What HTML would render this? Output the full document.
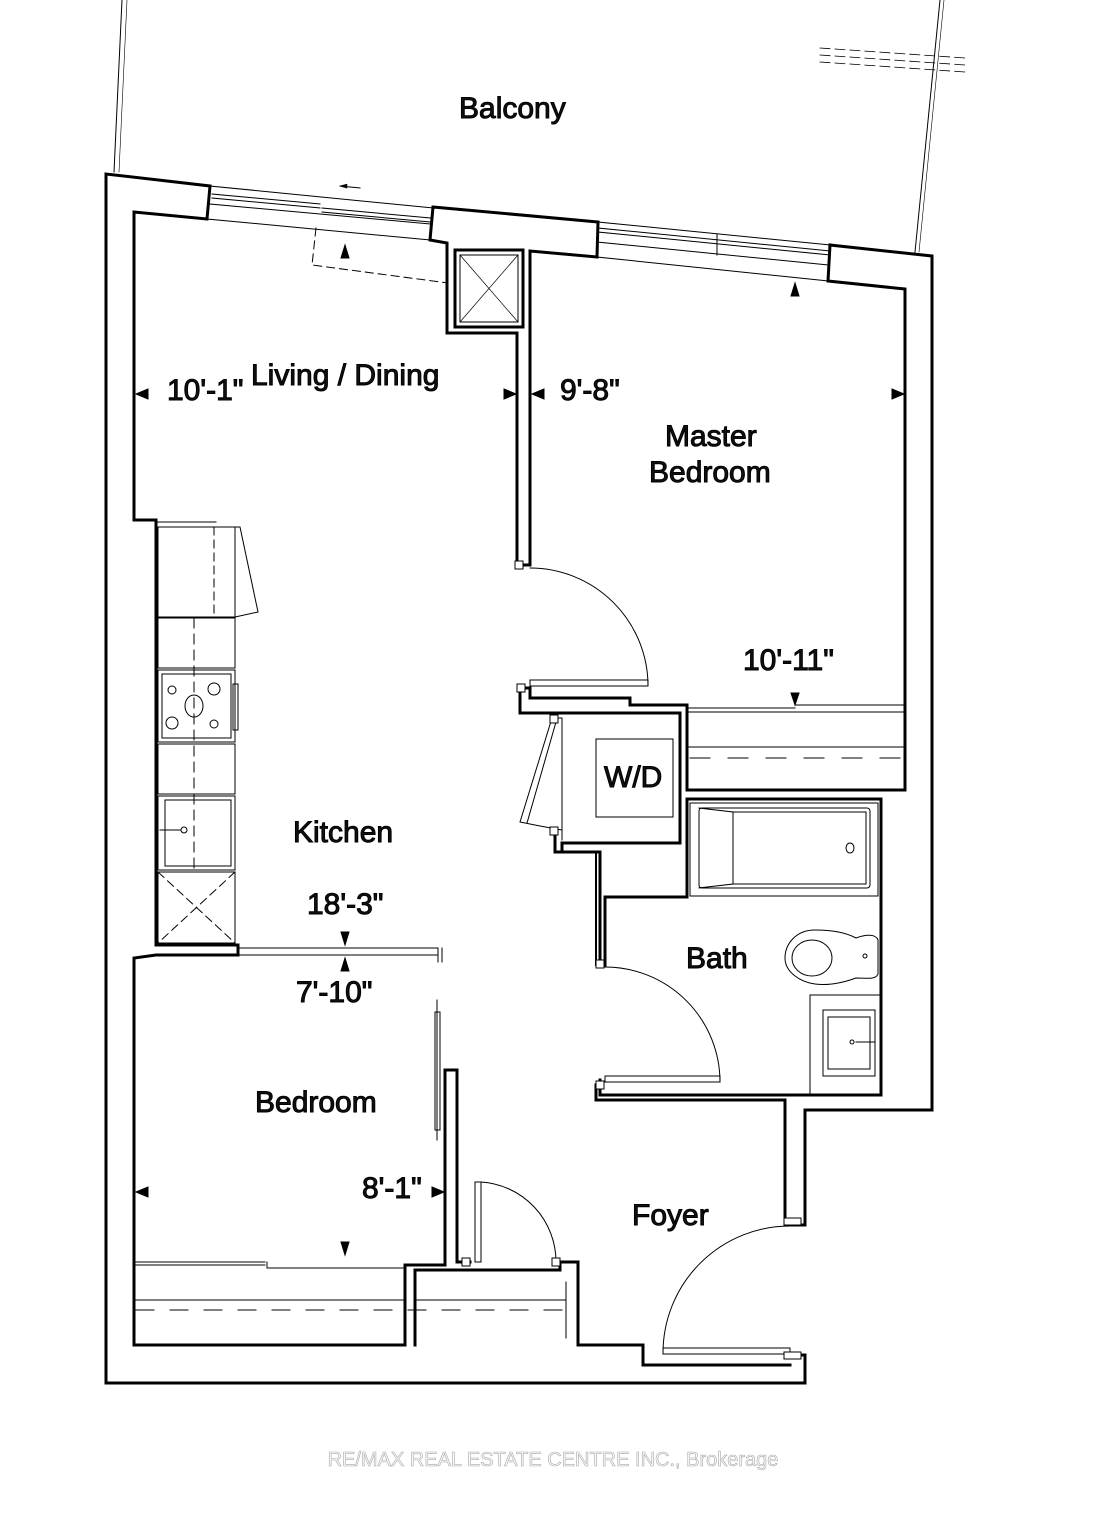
<!DOCTYPE html>
<html><head><meta charset="utf-8"><style>
html,body{margin:0;padding:0;background:#fff}
svg{display:block}
text{font-family:"Liberation Sans",Arial,sans-serif;fill:#111}
</style></head><body>
<svg width="1106" height="1520" viewBox="0 0 1106 1520" xmlns="http://www.w3.org/2000/svg">
<g fill="none" stroke="#000" stroke-linecap="square">
<line x1="122" y1="0" x2="114" y2="172" stroke-width="1"/>
<line x1="127" y1="0" x2="119" y2="172" stroke-width="0.6"/>
<line x1="940" y1="0" x2="915" y2="252" stroke-width="1"/>
<line x1="944" y1="0" x2="919" y2="252" stroke-width="0.6"/>
<line x1="820" y1="48" x2="965" y2="58" stroke-width="0.8" stroke-dasharray="10,5"/>
<line x1="820" y1="55" x2="965" y2="65" stroke-width="0.8" stroke-dasharray="10,5"/>
<line x1="820" y1="62" x2="965" y2="72" stroke-width="0.8" stroke-dasharray="10,5"/>

<path d="M106,1383 L106,174 L210,186 L207,219 L134,212 L134,520 L156,520 L156,945 L238,945 L238,955 L156,955 L134,958 L134,1345 L405,1345 L405,1265 L445,1265 L445,1070 L457,1070 L457,1262 L470,1262" stroke-width="3"/>
<path d="M433,207 L598,222 L597,257 L530,251 L530,565 L517,565 L517,333 L447,333 L447,243 L430,240 Z" stroke-width="3"/>
<path d="M830,245 L932,256 L932,1110 L805,1110 L805,1225 L785,1225 L785,1100 L596,1100 L596,1085" stroke-width="3"/>
<path d="M830,245 L828,281 L905,289 L905,790 L687,790 L687,705 L630,705 L630,698 L530,698 L530,688 L520,688 L520,713 L555,713" stroke-width="3"/>
<path d="M106,1383 L805,1383 L805,1355 L790,1355" stroke-width="3"/>
<path d="M415,1345 L415,1270 L560,1270 L560,1262 L578,1262 L578,1345 L643,1345 L643,1365 L790,1365" stroke-width="3"/>
<path d="M555,713 L680,713 L680,843 L562,843 L562,852 L555,852 L555,830" stroke-width="3"/>
<path d="M562,852 L600,852 L600,965" stroke-width="3"/>
<path d="M600,852 L600,965 M596,965 L596,852" stroke-width="2"/>
<path d="M687,799 L881,799 L881,1095 L600,1095 L600,1080" stroke-width="3"/>
<path d="M687,799 L687,897 L605,897" stroke-width="3"/>
<path d="M605,897 L605,965" stroke-width="3"/>
<rect x="455" y="250" width="68" height="77" stroke-width="3"/>
<rect x="460" y="255" width="58" height="67" stroke-width="1"/>
<line x1="460" y1="255" x2="518" y2="322" stroke-width="0.7"/>
<line x1="518" y1="255" x2="460" y2="322" stroke-width="0.7"/>

<g stroke-width="1">
<line x1="210" y1="186" x2="433" y2="208"/>
<line x1="207" y1="219" x2="430" y2="240"/>
<line x1="212" y1="194" x2="320" y2="204"/>
<line x1="212" y1="198" x2="320" y2="208"/>
<line x1="322" y1="208" x2="430" y2="218"/>
<line x1="322" y1="212" x2="430" y2="222"/>
<line x1="210" y1="204" x2="430" y2="224"/>
<line x1="598" y1="222" x2="830" y2="245"/>
<line x1="598" y1="228" x2="830" y2="251"/>
<line x1="598" y1="232" x2="830" y2="255"/>
<line x1="597" y1="242" x2="828" y2="265"/>
<line x1="597" y1="257" x2="828" y2="281"/>
<line x1="717" y1="234" x2="717" y2="255"/>
<path d="M316,228 L312,265 L448,283" stroke-dasharray="8,5"/>
<line x1="340" y1="186" x2="360" y2="188"/>
</g>
<path d="M340,186 L347,184 L347,188 Z" fill="#000" stroke-width="0.5"/>

<g stroke-width="1">
<line x1="156" y1="522" x2="216" y2="522"/>
<rect x="158" y="527" width="77" height="90"/>
<path d="M235,527 L240,527 L258,612 L235,617"/>
<line x1="214" y1="527" x2="214" y2="617" stroke-dasharray="8,5"/>
<rect x="158" y="618" width="77" height="50"/>
<rect x="158" y="670" width="77" height="72"/>
<rect x="162" y="674" width="69" height="64"/>
<rect x="233" y="684" width="5" height="46"/>
<circle cx="172" cy="690" r="4"/><circle cx="214" cy="689" r="6"/>
<circle cx="172" cy="723" r="6"/><circle cx="214" cy="724" r="4"/>
<ellipse cx="194" cy="706" rx="9" ry="11"/>
<rect x="158" y="744" width="77" height="50"/>
<rect x="158" y="796" width="77" height="74"/>
<rect x="165" y="800" width="66" height="66"/>
<line x1="160" y1="830" x2="180" y2="830"/><circle cx="184" cy="830" r="3"/>
<rect x="158" y="872" width="77" height="71"/>
<line x1="158" y1="872" x2="235" y2="943" stroke-dasharray="8,5"/>
<line x1="235" y1="872" x2="158" y2="943" stroke-dasharray="8,5"/>
<line x1="194" y1="618" x2="194" y2="870" stroke-dasharray="10,6"/>
<rect x="238" y="948" width="200" height="7"/>
<line x1="438" y1="948" x2="438" y2="962"/>
<line x1="442" y1="948" x2="442" y2="962"/>
<rect x="435" y="1012" width="5" height="118"/>
<line x1="437" y1="1000" x2="437" y2="1140"/>
<line x1="687" y1="708" x2="795" y2="708"/>
<line x1="795" y1="705" x2="905" y2="705"/>
<line x1="687" y1="712" x2="905" y2="712"/>
<line x1="687" y1="747" x2="905" y2="747"/>
<line x1="690" y1="758" x2="905" y2="758" stroke-dasharray="20,18"/>
<rect x="596" y="739" width="77" height="78"/>
<path d="M562,718 L552,718 L520,822 L540,826 L562,830"/>
<line x1="556" y1="722" x2="527" y2="823"/>
<line x1="562" y1="718" x2="562" y2="840"/>
<rect x="690" y="803" width="188" height="93"/>
<rect x="699" y="808" width="171" height="80" rx="3"/>
<path d="M699,808 L733,812 L733,884 L699,888"/>
<line x1="733" y1="812" x2="866" y2="812"/>
<line x1="733" y1="884" x2="866" y2="884"/>
<line x1="866" y1="812" x2="866" y2="884"/>
<ellipse cx="850" cy="848" rx="4" ry="5"/>
<path d="M856,938 C845,932 830,930 815,930 C795,930 785,945 785,958 C785,972 800,982 815,984 C830,986 845,982 856,978 C866,978 876,980 878,974 L878,940 C876,934 866,934 856,938 Z"/>
<ellipse cx="812" cy="958" rx="20" ry="18"/>
<circle cx="865" cy="956" r="2"/>
<line x1="810" y1="995" x2="810" y2="1095"/>
<line x1="810" y1="995" x2="880" y2="995"/>
<rect x="823" y="1010" width="52" height="66"/>
<rect x="828" y="1017" width="42" height="52"/>
<circle cx="852" cy="1042" r="2"/>
<line x1="856" y1="1042" x2="875" y2="1042"/>
<path d="M530,568 A118,118 0 0 1 648,686"/>
<rect x="530" y="680" width="118" height="6"/>
<path d="M605,967 A115,115 0 0 1 720,1082"/>
<rect x="605" y="1076" width="115" height="6"/>
<rect x="475" y="1182" width="6" height="80"/>
<path d="M481,1182 A80,80 0 0 1 556,1262"/>
<path d="M790,1226 A127,127 0 0 0 663,1353"/>
<rect x="663" y="1348" width="127" height="6"/>
<line x1="134" y1="1262" x2="265" y2="1262"/><line x1="134" y1="1265" x2="265" y2="1265"/>
<line x1="267" y1="1268" x2="405" y2="1268"/><line x1="267" y1="1262" x2="267" y2="1268"/>
<line x1="134" y1="1300" x2="405" y2="1300"/>
<line x1="415" y1="1300" x2="566" y2="1300"/>
<line x1="136" y1="1310" x2="566" y2="1310" stroke-dasharray="18,16"/>
<line x1="566" y1="1282" x2="566" y2="1338"/>
</g>
<g fill="#fff" stroke="#000" stroke-width="1">
<rect x="515" y="561" width="8" height="8"/><rect x="517" y="684" width="8" height="8"/>
<rect x="550" y="715" width="8" height="8"/><rect x="550" y="827" width="8" height="8"/>
<rect x="596" y="960" width="8" height="8"/><rect x="596" y="1081" width="8" height="8"/>
<rect x="462" y="1258" width="8" height="8"/><rect x="552" y="1258" width="8" height="8"/>
<rect x="784" y="1218" width="17" height="7"/><rect x="784" y="1352" width="17" height="7"/>
</g>
<g fill="#000">
<path d="M136,394 L148,389 L148,399 Z"/>
<path d="M516,394 L504,389 L504,399 Z"/>
<path d="M532,394 L544,389 L544,399 Z"/>
<path d="M904,394 L892,389 L892,399 Z"/>
<path d="M345,245 L341,258 L349,258 Z"/>
<path d="M795,283 L791,296 L799,296 Z"/>
<path d="M795,705 L791,693 L799,693 Z"/>
<path d="M345,945 L341,932 L349,932 Z"/>
<path d="M345,958 L341,971 L349,971 Z"/>
<path d="M136,1192 L148,1187 L148,1197 Z"/>
<path d="M444,1192 L432,1187 L432,1197 Z"/>
<path d="M345,1255 L341,1242 L349,1242 Z"/>
</g>
<g font-size="30">
<text x="459" y="118">Balcony</text>
<text x="167" y="400">10'-1"</text>
<text x="251" y="385">Living / Dining</text>
<text x="560" y="400">9'-8"</text>
<text x="665" y="446">Master</text>
<text x="649" y="482">Bedroom</text>
<text x="743" y="670">10'-11"</text>
<text x="604" y="787">W/D</text>
<text x="293" y="842">Kitchen</text>
<text x="307" y="914">18'-3"</text>
<text x="296" y="1002">7'-10"</text>
<text x="686" y="968">Bath</text>
<text x="255" y="1112">Bedroom</text>
<text x="362" y="1198">8'-1"</text>
<text x="632" y="1225">Foyer</text>
</g>
<text x="553" y="1466" font-size="20" text-anchor="middle" style="fill:#fafafa;stroke:#aaa;stroke-width:0.6">RE/MAX REAL ESTATE CENTRE INC., Brokerage</text>
</svg>
</body></html>
